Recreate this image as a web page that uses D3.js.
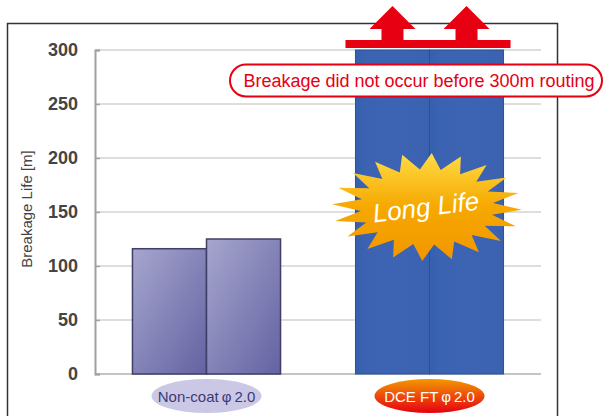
<!DOCTYPE html>
<html>
<head>
<meta charset="utf-8">
<script src="https://cdn.jsdelivr.net/npm/d3@7/dist/d3.min.js"></script>
<style>
body { margin: 0; background: #fff; }
svg { display: block; font-family: "Liberation Sans", Arial, sans-serif; }
</style>
</head>
<body>
<svg></svg>
<script>
// values
let categories = ['Non-coat', 'DCE FT']
let categoryLabels = ['Non-coat\u2009\u03c6\u20092.0', 'DCE FT\u2009\u03c6\u20092.0']
let trial1 = [116, 300]
let trial2 = [125, 300]
let yTicks = [0, 50, 100, 150, 200, 250, 300]
let yTitle = 'Breakage Life [m]'
let note = 'Breakage did not occur before 300m routing'
let badge = 'Long Life'

let width = 604
let height = 416
let plotLeft = 95
let plotRight = 541
let plotTop = 50
let plotBottom = 374

let svg = d3.select('svg').attr('width', width).attr('height', height)

let xScale = d3.scaleBand()
    .domain(categories)
    .range([plotLeft, plotRight])
    .paddingInner(0.336)
    .paddingOuter(0.168)

let subScale = d3.scaleBand()
    .domain([0, 1])
    .range([0, xScale.bandwidth()])

let yScale = d3.scaleLinear()
    .domain([0, 300])
    .range([plotBottom, plotTop])

let defs = svg.append('defs')

let grad = (id, x2, y2, stops) => {
    let g = defs.append('linearGradient').attr('id', id)
        .attr('x1', 0).attr('y1', 0).attr('x2', x2).attr('y2', y2)
    stops.forEach(s => g.append('stop').attr('offset', s[0]).attr('stop-color', s[1]))
}
grad('gNon', 1, 1, [[0, '#a6a6ce'], [1, '#6462a2']])
grad('gDce', 1, 0, [[0, '#3560ae'], [0.15, '#3b63b1'], [0.5, '#3c64b2'], [0.9, '#3b63b1'], [1, '#3a61ae']])
grad('gStar', 0, 1, [[0, '#ffdc45'], [0.5, '#f6a800'], [1, '#f39600']])
grad('gTag', 0, 1, [[0, '#f39800'], [1, '#e60012']])

// frame
svg.append('rect')
    .attr('x', 7.5).attr('y', 23.5)
    .attr('width', 550).attr('height', 420)
    .attr('fill', 'none').attr('stroke', '#333').attr('stroke-width', 1.5)

// grid
svg.append('g').selectAll('line')
    .data(yTicks)
    .enter()
    .append('line')
    .attr('x1', plotLeft).attr('x2', plotRight)
    .attr('y1', d => yScale(d)).attr('y2', d => yScale(d))
    .attr('stroke', d => d === 0 ? '#c4c4c4' : '#dedede')
    .attr('stroke-width', 2)

// axis
let yAxis = d3.axisLeft(yScale).tickValues(yTicks).tickSize(-5).tickPadding(17)
let yAxisG = svg.append('g')
    .attr('transform', 'translate(' + plotLeft + ', 0)')
    .call(yAxis)
yAxisG.select('.domain').attr('stroke', '#a0a0a0').attr('stroke-width', 2)
yAxisG.selectAll('.tick line').attr('stroke', '#a0a0a0').attr('stroke-width', 1.5)
yAxisG.selectAll('.tick text')
    .attr('fill', '#444')
    .style('font-size', '18px')
    .style('font-weight', 'bold')
    .style('font-family', '"Liberation Sans", Arial, sans-serif')

svg.append('text')
    .attr('transform', 'translate(28, 209) rotate(-90)')
    .attr('text-anchor', 'middle')
    .attr('dominant-baseline', 'middle')
    .attr('fill', '#444')
    .style('font-size', '15px')
    .text(yTitle)

// bars
let rows = []
categories.forEach((c, i) => {
    rows.push({ cat: c, k: 0, v: trial1[i] })
    rows.push({ cat: c, k: 1, v: trial2[i] })
})

svg.append('g').selectAll('rect')
    .data(rows)
    .enter()
    .append('rect')
    .attr('x', d => xScale(d.cat) + subScale(d.k))
    .attr('y', d => yScale(d.v))
    .attr('width', subScale.bandwidth())
    .attr('height', d => yScale(0) - yScale(d.v))
    .attr('fill', d => d.cat === 'Non-coat' ? 'url(#gNon)' : 'url(#gDce)')
    .attr('stroke', d => d.cat === 'Non-coat' ? '#3f3f68' : '#2a509c')
    .attr('stroke-width', d => d.cat === 'Non-coat' ? 1.5 : 1)

// red arrows over the DCE bars
let dx = xScale('DCE FT')
let arrows = svg.append('g').attr('fill', '#e60012')
arrows.append('rect')
    .attr('x', dx - 10).attr('y', 40)
    .attr('width', xScale.bandwidth() + 17).attr('height', 8)
;[0, 1].forEach(k => {
    let cx = dx + subScale(k) + subScale.bandwidth() / 2
    arrows.append('path')
        .attr('d', 'M' + (cx - 11) + ',41 L' + (cx - 11) + ',29 L' + (cx - 23) + ',29 L' + cx + ',6 L' + (cx + 23) + ',29 L' + (cx + 11) + ',29 L' + (cx + 11) + ',41 Z')
})

// callout
let noteG = svg.append('g')
noteG.append('rect')
    .attr('x', 230).attr('y', 64.5)
    .attr('width', 372).attr('height', 32)
    .attr('rx', 16).attr('ry', 16)
    .attr('fill', '#fff').attr('stroke', '#e60012').attr('stroke-width', 2)
noteG.append('text')
    .attr('x', 419).attr('y', 87)
    .attr('text-anchor', 'middle')
    .attr('fill', '#e60012')
    .style('font-size', '18px')
    .text(note)

// starburst
let sx = 427, sy = 207
let spikes = 20
let pts = []
for (let i = 0; i < spikes * 2; i++) {
    let a = -Math.PI / 2 + i * Math.PI / spikes + 0.05
    let r = i % 2 === 0 ? 1 : 0.7
    pts.push([sx + Math.cos(a) * 95 * r, sy + Math.sin(a) * 54 * r])
}
svg.append('path')
    .attr('d', d3.line()(pts) + 'Z')
    .attr('fill', 'url(#gStar)')
svg.append('text')
    .attr('transform', 'translate(' + sx + ',' + (sy + 9) + ') rotate(-7)')
    .attr('text-anchor', 'middle')
    .attr('fill', '#fff')
    .style('font-size', '26px')
    .style('font-style', 'italic')
    .text(badge)

// category tags
let tags = svg.append('g').selectAll('g')
    .data(categories)
    .enter()
    .append('g')
    .attr('transform', d => 'translate(' + (xScale(d) + xScale.bandwidth() / 2) + ', 396)')
tags.append('ellipse')
    .attr('rx', 55).attr('ry', 17)
    .attr('fill', (d, i) => i === 0 ? '#cbc8e6' : 'url(#gTag)')
tags.append('text')
    .attr('text-anchor', 'middle')
    .attr('y', 5.5)
    .attr('fill', (d, i) => i === 0 ? '#3b3a78' : '#fff')
    .style('font-size', '15px')
    .text((d, i) => categoryLabels[i])
</script>
</body>
</html>
